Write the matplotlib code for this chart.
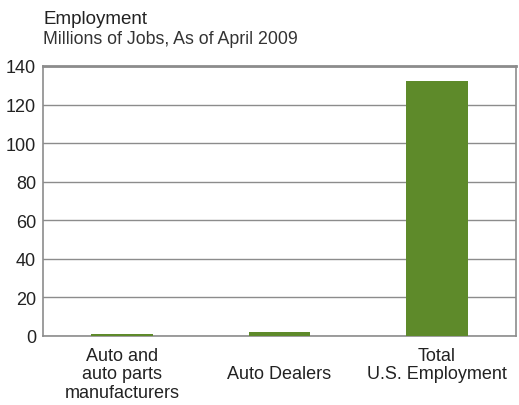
import numpy as np
import matplotlib
matplotlib.use("Agg")
import matplotlib.pyplot as plt

plt.rcParams['font.family'] = ['Liberation Sans Narrow', 'Liberation Sans', 'DejaVu Sans']

# data
categories = ['Auto and\nauto parts\nmanufacturers', '\nAuto Dealers', 'Total\nU.S. Employment']
jobs = [1.0, 2.2, 132.0]
yticks = [0, 20, 40, 60, 80, 100, 120, 140]

green = '#5e8a2a'
gray = '#8c8c8c'

fig = plt.figure(figsize=(5.19, 4.06), dpi=100)
ax = fig.add_axes([0.083, 0.17, 0.911, 0.665])

x = np.arange(len(categories))
ax.bar(x, jobs, width=0.39, color=green, zorder=3)

ax.set_xlim(-0.5, 2.5)
ax.set_ylim(0, 140)
ax.set_yticks(yticks)
ax.set_xticks(x)
ax.set_xticklabels(categories, fontsize=13, color='#222222', linespacing=1.1, va='top')
ax.tick_params(axis='y', labelsize=13, labelcolor='#222222', length=0, pad=5)
ax.tick_params(axis='x', length=0, pad=8)
ax.yaxis.grid(True, color=gray, linewidth=1, zorder=0)

for s in ax.spines.values():
    s.set_color(gray)
    s.set_linewidth(1.2)
ax.spines['top'].set_linewidth(2)

fig.text(0.083, 0.953, 'Employment', fontsize=13.5, color='#222222', ha='left', va='center')
fig.text(0.083, 0.903, 'Millions of Jobs, As of April 2009', fontsize=12.8, color='#333333', ha='left', va='center')

fig.savefig('out.png', dpi=100)
